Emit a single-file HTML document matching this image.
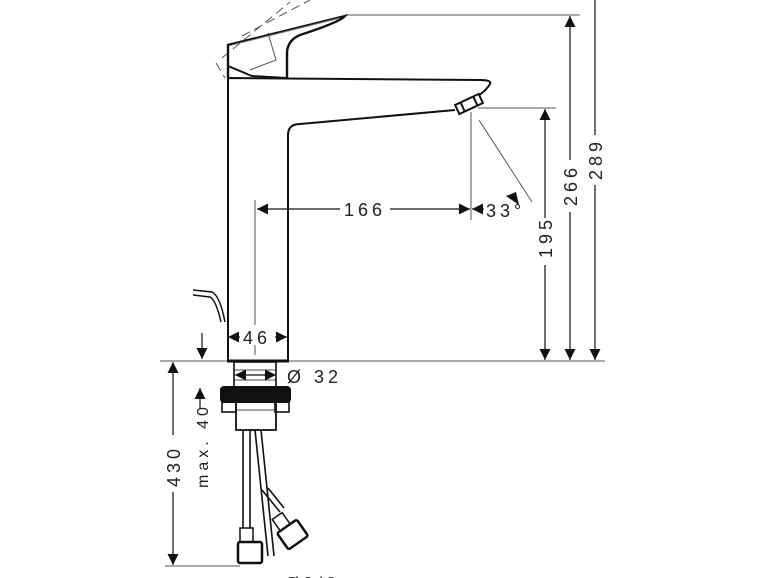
<!DOCTYPE html>
<html><head><meta charset="utf-8"><style>
html,body{margin:0;padding:0;background:#fff;}
svg{display:block}
text{font-family:"Liberation Sans","DejaVu Sans",sans-serif;fill:#222;letter-spacing:4px}
</style></head><body>
<svg width="770" height="578" viewBox="0 0 770 578" xmlns="http://www.w3.org/2000/svg">
<defs>
<marker id="a" viewBox="0 0 10 10" refX="10" refY="5" markerWidth="11" markerHeight="11" markerUnits="userSpaceOnUse" orient="auto"><path d="M0,0L10,5L0,10z" fill="#111"/></marker>
</defs>
<g fill="none" stroke="#555" stroke-width="1">
<line x1="345" y1="15" x2="580" y2="15"/>
<line x1="478" y1="108" x2="556" y2="108"/>
<line x1="160" y1="361" x2="605" y2="361"/>
<line x1="165" y1="566" x2="240" y2="566"/>
<line x1="471" y1="112" x2="471" y2="220"/>
<line x1="479" y1="120" x2="532" y2="202"/>
<line x1="255" y1="200" x2="255" y2="325"/>
<line x1="255" y1="345" x2="255" y2="355"/>
<path d="M216,63 L225,78 M222,58 L290,2 M242,36 L310,0" stroke-dasharray="9,5"/>
<path d="M268,33 L276,60 L250,70"/>
</g>
<g fill="none" stroke="#111" stroke-width="1.2">
<line x1="570" y1="160" x2="570" y2="16" marker-end="url(#a)"/>
<line x1="570" y1="212" x2="570" y2="360" marker-end="url(#a)"/>
<line x1="595" y1="0" x2="595" y2="135"/>
<line x1="595" y1="185" x2="595" y2="360" marker-end="url(#a)"/>
<line x1="545" y1="218" x2="545" y2="109" marker-end="url(#a)"/>
<line x1="545" y1="265" x2="545" y2="360" marker-end="url(#a)"/>
<line x1="340" y1="209" x2="257" y2="209" marker-end="url(#a)"/>
<line x1="390" y1="209" x2="470" y2="209" marker-end="url(#a)"/>
<line x1="484" y1="209" x2="472" y2="209" marker-end="url(#a)"/>
<path d="M506,196 L519,205 L516,192z" fill="#111" stroke="none"/>
<line x1="240" y1="337" x2="228" y2="337" marker-end="url(#a)"/>
<line x1="275" y1="337" x2="287" y2="337" marker-end="url(#a)"/>
<line x1="202" y1="333" x2="202" y2="359" marker-end="url(#a)"/>
<line x1="173" y1="435" x2="173" y2="362" marker-end="url(#a)"/>
<line x1="173" y1="492" x2="173" y2="565" marker-end="url(#a)"/>
<line x1="200" y1="408" x2="200" y2="388" marker-end="url(#a)"/>
<line x1="246" y1="375" x2="235" y2="375" marker-end="url(#a)"/>
<line x1="264" y1="375" x2="276" y2="375" marker-end="url(#a)"/>
<line x1="240" y1="375" x2="270" y2="375"/>
</g>
<g fill="none" stroke="#111" stroke-width="2">
<path d="M228,360 L228,78 L480,80 Q492,80 490,84 Q484,94 470,100"/>
<path d="M288,360 L288,135 Q288,124 300,124 L455,110"/>
<line x1="227" y1="361" x2="289" y2="361" stroke-width="3"/>
<g transform="rotate(-25 469 104)"><rect x="456" y="99" width="26" height="10" fill="#fff"/><line x1="462" y1="99" x2="462" y2="109"/><line x1="476" y1="99" x2="476" y2="109"/></g>
<path d="M228,78 L228,45 L345,16 Q340,22 300,35 Q288,40 287,52 L287,78" stroke-width="2.4"/>
<path d="M228,66 L252,76 L287,78"/>
<path d="M232,45 L340,18" stroke-width="1" stroke="#777"/>
<path d="M193,290 L212,292 Q220,296 225,322" stroke-width="1.5"/>
<path d="M193,295 L210,297 Q216,300 221,322" stroke-width="1.5"/>
<rect x="234" y="362" width="42" height="25" stroke-width="1.6"/>
<line x1="234" y1="370" x2="276" y2="370" stroke-width="0.8"/>
<line x1="234" y1="380" x2="276" y2="380" stroke-width="0.8"/>
<rect x="221" y="387" width="69" height="15" rx="3" fill="#111"/>
<rect x="222" y="402" width="14" height="10" stroke-width="1.6"/>
<rect x="275" y="402" width="14" height="10" stroke-width="1.6"/>
<rect x="236" y="402" width="40" height="28" stroke-width="1.8"/>
<line x1="236" y1="410" x2="276" y2="410" stroke-width="0.8"/>
<path d="M243,430 L243,528 M250,430 L250,528" stroke-width="1.6"/>
<path d="M255,430 L268,556 M261,430 L274,556" stroke-width="1.6"/>
<path d="M262,490 L280,512 M268,488 L284,508" stroke-width="1.6"/>
<rect x="240" y="528" width="13" height="14" stroke-width="1.5"/>
<rect x="238" y="542" width="24" height="21" rx="2" stroke-width="2.5"/>
<g transform="rotate(-35 288 528)"><rect x="280" y="512" width="12" height="14" stroke-width="1.5"/><rect x="276" y="526" width="24" height="20" rx="2" stroke-width="2.5"/></g>
</g>
<g font-size="18">
<text x="344" y="216">166</text>
<text x="486" y="217">33°</text>
<text x="243" y="344">46</text>
<text x="287" y="383">Ø 32</text>
<text transform="translate(552,258) rotate(-90)">195</text>
<text transform="translate(577,206) rotate(-90)">266</text>
<text transform="translate(602,180) rotate(-90)">289</text>
<text transform="translate(180,487) rotate(-90)">430</text>
<text transform="translate(208,488) rotate(-90)" font-size="16">max. 40</text>
<text x="285" y="590">Ø3/8</text>
</g>
</svg>
</body></html>
